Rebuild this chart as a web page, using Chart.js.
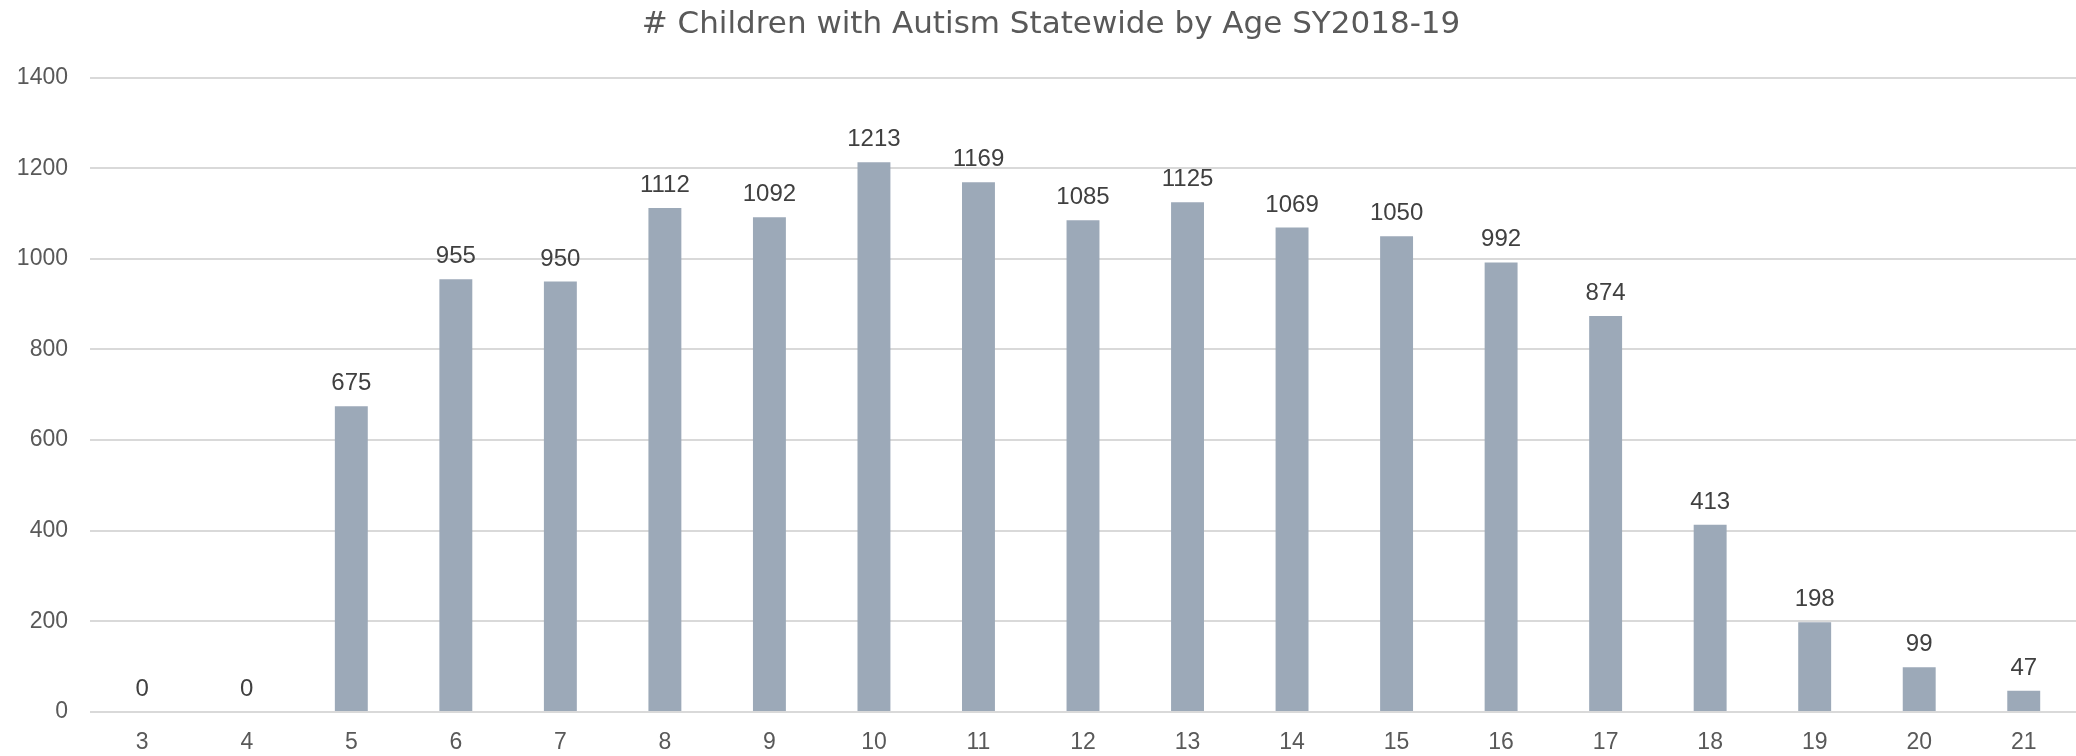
<!DOCTYPE html>
<html>
<head>
<meta charset="utf-8">
<script src="https://cdn.jsdelivr.net/npm/chart.js@4/dist/chart.umd.min.js"></script>
<style>
  html, body { margin: 0; padding: 0; background: #fff; }
  #wrap { width: 2076px; height: 756px; }
</style>
</head>
<body>
<div id="wrap"><canvas id="chart" width="2076" height="756"></canvas></div>
<script>
/* data */
const TITLE = '# Children with Autism Statewide by Age SY2018-19';
const ages = ['3','4','5','6','7','8','9','10','11','12','13','14','15','16','17','18','19','20','21'];
const counts = [0, 0, 675, 955, 950, 1112, 1092, 1213, 1169, 1085, 1125, 1069, 1050, 992, 874, 413, 198, 99, 47];
const yTicks = [0, 200, 400, 600, 800, 1000, 1200, 1400];

/* style */
const FONT = "'Liberation Sans', Arial, sans-serif";
const TITLE_FONT = "'DejaVu Sans', sans-serif";
const BAR_COLOR = '#9ca9b8';
const GRID_COLOR = '#d9d9d9';
const TEXT_COLOR = '#595959';
const LABEL_COLOR = '#404040';

/* value labels above bars */
const valueLabels = {
  id: 'valueLabels',
  afterDatasetsDraw(chart) {
    const ctx = chart.ctx;
    const meta = chart.getDatasetMeta(0);
    ctx.save();
    ctx.font = `24px ${FONT}`;
    ctx.fillStyle = LABEL_COLOR;
    ctx.textAlign = 'center';
    ctx.textBaseline = 'alphabetic';
    meta.data.forEach((bar, i) => {
      ctx.fillText(String(counts[i]), bar.x, bar.y - 16);
    });
    ctx.restore();
  }
};

/* title, sits a little right of canvas centre like the original */
const chartTitle = {
  id: 'chartTitle',
  afterDraw(chart) {
    const ctx = chart.ctx;
    ctx.save();
    ctx.font = `31px ${TITLE_FONT}`;
    ctx.fillStyle = TEXT_COLOR;
    ctx.textAlign = 'center';
    ctx.textBaseline = 'middle';
    ctx.fillText(TITLE, chart.width / 2 + 13, 25);
    ctx.restore();
  }
};

const ctx = document.getElementById('chart').getContext('2d');
new Chart(ctx, {
  type: 'bar',
  data: {
    labels: ages,
    datasets: [{
      data: counts,
      backgroundColor: BAR_COLOR,
      borderWidth: 0,
      barPercentage: 0.315,
      categoryPercentage: 1
    }]
  },
  options: {
    responsive: false,
    animation: false,
    layout: { padding: { left: 0, right: 0, top: 77.6, bottom: 0 } },
    plugins: {
      legend: { display: false },
      tooltip: { enabled: false },
      title: { display: false }
    },
    scales: {
      x: {
        grid: { display: false },
        border: { display: false },
        ticks: { color: TEXT_COLOR, font: { family: FONT, size: 23 }, padding: 9, maxRotation: 0 },
        afterFit(scale) { scale.height = 44; }
      },
      y: {
        min: 0,
        max: 1400,
        afterBuildTicks(scale) { scale.ticks = yTicks.map(v => ({ value: v })); },
        grid: { color: GRID_COLOR, lineWidth: 2, drawTicks: false },
        border: { display: false },
        ticks: { color: TEXT_COLOR, font: { family: FONT, size: 23 }, padding: 22, callback: v => String(v) },
        afterFit(scale) { scale.width = 90; }
      }
    }
  },
  plugins: [valueLabels, chartTitle]
});
</script>
</body>
</html>
